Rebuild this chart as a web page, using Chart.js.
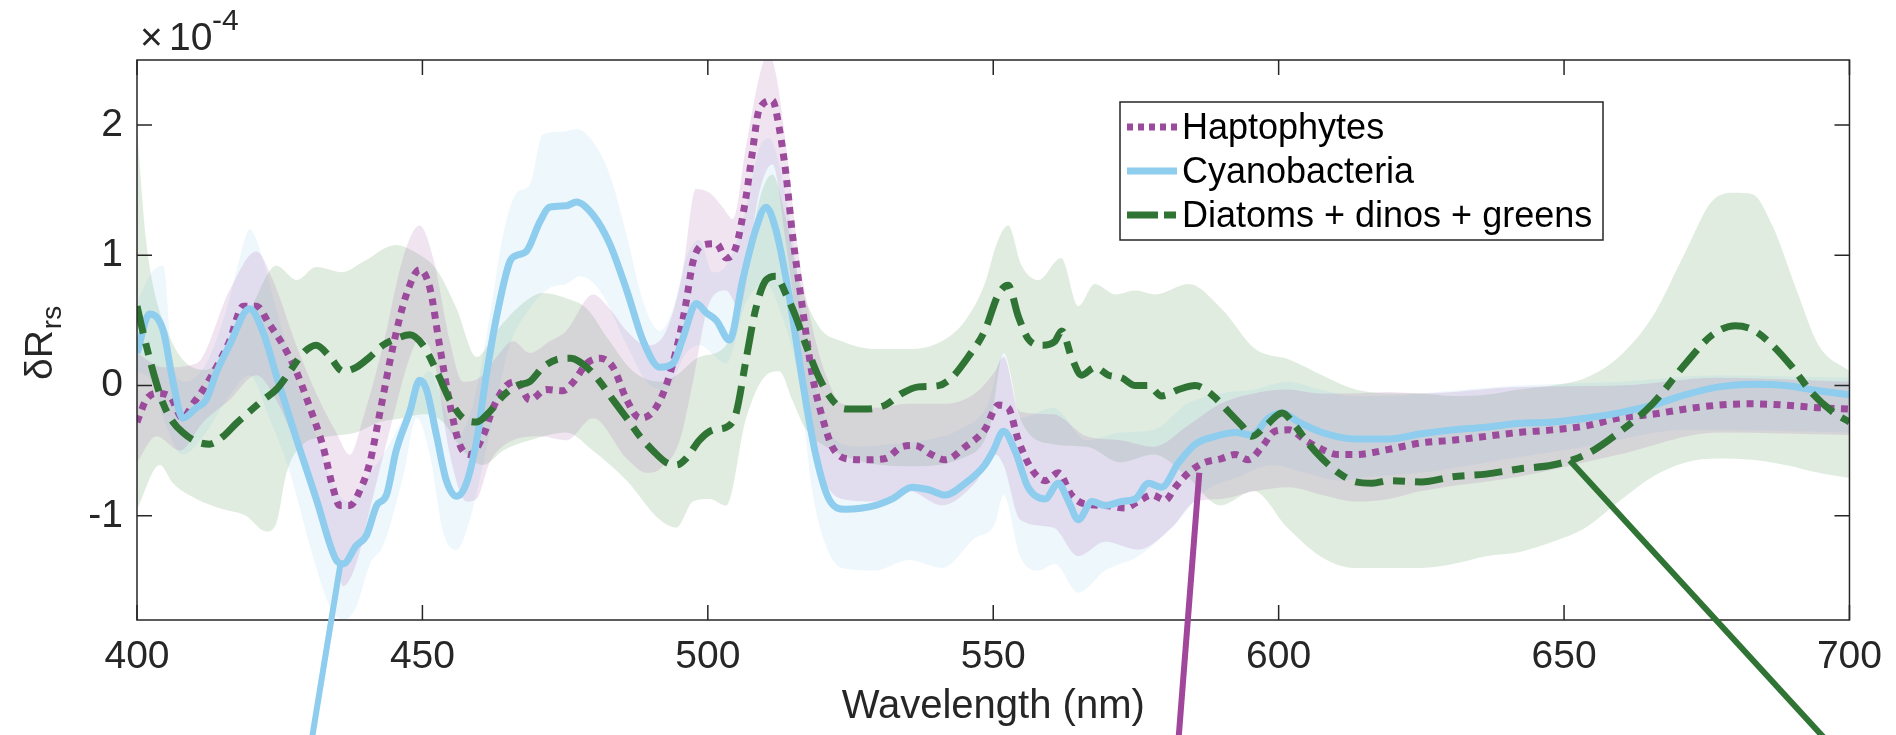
<!DOCTYPE html>
<html>
<head>
<meta charset="utf-8">
<title>δRrs spectra</title>
<script src="https://cdn.jsdelivr.net/npm/chart.js@4.4.1/dist/chart.umd.min.js"></script>
<style>
  html, body { margin: 0; padding: 0; background: #fff; }
  #wrap { width: 1896px; height: 735px; }
</style>
</head>
<body>
<div id="wrap"><canvas id="spectra" width="1896" height="735"></canvas></div>
<script>
// ---- data: [wavelength (nm), δRrs (×1e-4)] ----
const xTicks = [400, 450, 500, 550, 600, 650, 700];
const yTicks = [-1, 0, 1, 2];

const haptoMean = [
  [400,-0.28],[401.6,-0.11],[403.4,-0.06],[405.7,-0.08],[408,-0.25],[409.8,-0.14],[411.6,-0.03],
  [413.9,0.14],[416.2,0.34],[418.6,0.61],[420.9,0.61],[423.2,0.47],[425.6,0.31],[427.9,0.11],
  [430.3,-0.17],[432.6,-0.47],[434.3,-0.78],[435.5,-0.92],[437.3,-0.92],[439,-0.81],[440.8,-0.59],
  [442.5,-0.22],[444.9,0.31],[447.2,0.70],[449.5,0.89],[451.3,0.75],[453,0.31],[454.8,-0.14],
  [456.5,-0.45],[458.3,-0.53],[460.6,-0.39],[462.4,-0.17],[464.7,0],[466.5,0.03],[468.8,-0.11],
  [471.7,-0.03],[474.6,-0.04],[476.5,0.03],[478.8,0.17],[481.1,0.21],[483.4,0.14],[485.8,-0.11],
  [488.1,-0.25],[490.4,-0.20],[492.7,0],[495.1,0.39],[496.2,0.64],[497.4,0.95],[499.1,1.08],
  [501.5,1.09],[503.2,0.98],[504.9,1.06],[506.7,1.45],[507.8,1.79],[509,2.12],[511.3,2.19],
  [512.5,1.98],[513.7,1.62],[514.8,1.17],[516.6,0.59],[518.3,0.08],[520.1,-0.25],[521.8,-0.47],
  [524.1,-0.56],[527.6,-0.57],[531.1,-0.56],[534,-0.47],[536.3,-0.46],[539.2,-0.53],[541.6,-0.57],
  [545.1,-0.47],[548.5,-0.34],[550.9,-0.15],[552.6,-0.17],[554.4,-0.42],[556.7,-0.64],[559.1,-0.73],
  [561.4,-0.67],[563.7,-0.84],[566.1,-0.91],[569.6,-0.92],[573.1,-0.94],[575.4,-0.89],[577.8,-0.84],
  [580.1,-0.88],[581.9,-0.78],[584.2,-0.67],[586.5,-0.60],[590,-0.56],[592.4,-0.53],[594.7,-0.57],
  [597.1,-0.47],[599.4,-0.35],[601.8,-0.34],[604.7,-0.42],[607.6,-0.49],[610.5,-0.53],[613.5,-0.53],
  [619.3,-0.49],[625,-0.44],[630.5,-0.42],[636.3,-0.39],[642.1,-0.36],[648,-0.34],[653.8,-0.31],
  [659.6,-0.25],[665.5,-0.22],[671.3,-0.18],[677.1,-0.15],[683,-0.14],[688.8,-0.15],[694.6,-0.17],
  [700,-0.18]
];
const haptoHi = [
  [400,0.25],[404.6,0.14],[410.4,0.17],[416.2,0.73],[420.9,1.03],[423.8,0.81],[427.9,0.31],
  [431.4,-0.06],[434.9,-0.36],[437.3,-0.53],[439.6,-0.25],[443.1,0.31],[446.6,0.98],[449.5,1.23],
  [451.9,0.98],[454.8,0.34],[457.1,0.03],[460,0.06],[463,0.22],[465.9,0.34],[468.8,0.25],
  [472.3,0.34],[475.2,0.42],[479.9,0.70],[482.8,0.59],[485.8,0.42],[489.3,0.31],[492.7,0.42],
  [495.6,0.87],[497.9,1.51],[500.3,1.48],[502.6,1.37],[504.4,1.28],[506.7,1.84],[509,2.37],
  [510.5,2.55],[511.9,2.40],[513.7,1.84],[516,0.98],[518.3,0.45],[520.7,0.08],[523.5,-0.14],
  [529.4,-0.17],[535.2,-0.14],[541,-0.14],[546.8,-0.06],[550.3,0.11],[551.8,0.22],[554.7,-0.20],
  [560.5,-0.22],[566.4,-0.39],[572.3,-0.42],[578.1,-0.47],[584,-0.31],[589.8,-0.14],[595.6,-0.06],
  [601.5,-0.03],[607.3,-0.06],[613.2,-0.06],[619,-0.05],[625,-0.06],[642,-0.01],[659.6,0],
  [677,0.06],[700,0.03]
];
const haptoLo = [
  [400,-0.59],[403.4,-0.39],[407.5,-0.50],[411.6,-0.28],[416.2,-0.11],[420.9,0.08],[424.4,-0.11],
  [427.9,-0.47],[431.4,-0.95],[434.9,-1.31],[436.1,-1.54],[438.4,-1.37],[440.8,-0.95],[444.3,-0.34],
  [447.8,0.22],[449.5,0.36],[451.9,0.22],[454.8,-0.53],[457.7,-0.89],[459.5,-0.87],[461.8,-0.59],
  [465.9,-0.42],[470.6,-0.39],[475.2,-0.42],[479.9,-0.25],[485.8,-0.56],[489.3,-0.67],[491.6,-0.64],
  [495.1,-0.42],[497.4,0.03],[500.3,0.64],[503.2,0.73],[505.5,0.59],[509,1.48],[511.3,1.70],
  [513.7,1.09],[516,0.31],[518.3,-0.39],[520.7,-0.75],[523.5,-0.87],[529.4,-0.89],[535.2,-0.81],
  [541,-0.92],[546.8,-0.75],[550.3,-0.53],[551.8,-0.61],[554.7,-1.03],[560.5,-1.09],[564.9,-1.31],
  [569.6,-1.20],[575.4,-1.26],[581.3,-1.09],[585.4,-0.89],[590,-0.87],[595.9,-0.81],[601.8,-0.78],
  [607.6,-0.84],[613.5,-0.89],[619.3,-0.87],[625,-0.81],[642,-0.70],[659.6,-0.53],[677,-0.36],
  [700,-0.38]
];

const cyanoMean = [
  [400,0.25],[402.2,0.55],[404.6,0.42],[406.3,0.03],[408,-0.25],[410.4,-0.17],[412.1,-0.11],
  [414,0.11],[416.2,0.31],[419.7,0.59],[422,0.42],[424.4,0.08],[428,-0.42],[431.4,-0.87],
  [434.9,-1.34],[436.1,-1.37],[438.4,-1.23],[440.2,-1.15],[442,-0.92],[443.7,-0.84],[445.4,-0.50],
  [447.8,-0.20],[449.5,0.04],[450.7,-0.03],[452.5,-0.39],[454.2,-0.73],[456,-0.85],[457.7,-0.75],
  [459.5,-0.42],[461.2,0.08],[463,0.53],[465.3,0.95],[466.5,1.00],[468.2,1.03],[470.6,1.26],
  [472.3,1.37],[475.2,1.38],[477,1.41],[479.9,1.31],[482.8,1.09],[485.8,0.73],[488.7,0.34],
  [491.6,0.14],[493.9,0.17],[495.6,0.36],[498,0.63],[499.7,0.56],[501.5,0.50],[503.8,0.35],
  [506.1,0.81],[508.4,1.20],[510.2,1.37],[511.9,1.20],[514.2,0.70],[516.6,0.03],[518.9,-0.53],
  [521.2,-0.87],[524.1,-0.95],[529.4,-0.92],[532.3,-0.87],[535.8,-0.78],[538.7,-0.80],[541.6,-0.84],
  [545.1,-0.75],[548.5,-0.61],[550,-0.50],[551.8,-0.35],[553.8,-0.50],[556.1,-0.78],[559.1,-0.87],
  [561.4,-0.75],[563.2,-0.89],[564.9,-1.03],[567.3,-0.89],[569.6,-0.92],[572.5,-0.89],[574.9,-0.87],
  [577.2,-0.75],[579.5,-0.78],[582.5,-0.59],[585.4,-0.45],[588.9,-0.39],[592.4,-0.36],[595.3,-0.38],
  [598.2,-0.25],[600.6,-0.21],[603.5,-0.28],[607.6,-0.36],[613.5,-0.41],[619.3,-0.41],[625,-0.37],
  [630.5,-0.34],[636.3,-0.32],[642.1,-0.29],[648,-0.28],[653.8,-0.25],[659.6,-0.21],[665.5,-0.15],
  [671.3,-0.07],[677.1,-0.01],[683,0.01],[688.8,0],[694.6,-0.04],[700,-0.07]
];
const cyanoHi = [
  [400,0.64],[402.6,0.87],[404.6,0.92],[406.3,0.14],[408.6,0.03],[412.1,0.17],[415.7,0.59],
  [418,0.98],[419.7,1.20],[422,0.98],[424.4,0.59],[428,0.03],[431.4,-0.39],[434.9,-0.81],
  [437.3,-0.89],[439.6,-0.75],[443.1,-0.53],[446.6,-0.25],[449.5,0.03],[451.3,0.11],[453.6,-0.14],
  [456,-0.39],[458.9,-0.14],[461.8,0.53],[464.1,1.15],[466.5,1.48],[468.8,1.54],[471.1,1.93],
  [474.6,1.95],[477,1.97],[479.9,1.87],[482.8,1.62],[485.8,1.15],[488.7,0.64],[491.6,0.42],
  [493.9,0.59],[496.2,0.98],[498.5,1.12],[500.9,0.87],[503.2,0.92],[506.7,1.37],[509,1.82],
  [510.8,1.90],[512.5,1.70],[514.8,1.15],[517.2,0.36],[519.5,-0.11],[521.8,-0.39],[526.5,-0.47],
  [532.3,-0.45],[538.1,-0.42],[544,-0.34],[549.1,-0.14],[551.8,0.25],[554.7,-0.25],[560.5,-0.17],
  [566.4,-0.42],[572.3,-0.36],[578.1,-0.34],[584,-0.14],[589.8,-0.06],[595.6,-0.03],[601.5,0.03],
  [607.3,-0.03],[613.2,-0.08],[619,-0.08],[624.9,-0.06],[630.5,-0.04],[642,0],[659.6,0.03],
  [677,0.08],[700,0.06]
];
const cyanoLo = [
  [400,0.11],[402.6,0.03],[404.6,-0.25],[408,-0.53],[412.1,-0.36],[415.7,-0.11],[419.7,0.08],
  [423.2,-0.25],[426.8,-0.67],[430.3,-1.23],[433.8,-1.70],[436.1,-1.80],[438.4,-1.70],[440.8,-1.37],
  [443.1,-1.23],[446.6,-0.70],[449,-0.25],[451.3,-0.53],[453.6,-1.12],[456,-1.26],[458.3,-1.03],
  [460.6,-0.61],[463,-0.11],[465.3,0.31],[468.8,0.59],[472.3,0.75],[475.2,0.78],[477.6,0.84],
  [481.1,0.73],[485.8,0.31],[489.3,0.03],[492.7,-0.03],[496.2,0.25],[498.5,0.31],[503.2,0.17],
  [506.7,0.64],[510.2,0.78],[512.5,0.59],[516,0.03],[518.3,-0.81],[520.7,-1.23],[523.5,-1.40],
  [529.4,-1.42],[535.2,-1.34],[541,-1.40],[546.8,-1.17],[550.3,-1.06],[551.8,-0.84],[554.7,-1.31],
  [557.9,-1.42],[560.8,-1.37],[564.9,-1.59],[569.6,-1.42],[575.4,-1.31],[581.3,-1.09],[587.1,-0.81],
  [593,-0.70],[598.8,-0.61],[604.7,-0.67],[610.5,-0.73],[616.4,-0.70],[625,-0.67],[636.3,-0.59],
  [653.8,-0.47],[671.3,-0.34],[700,-0.36]
];

const diatomMean = [
  [400,0.61],[401,0.42],[402.8,0.11],[404.6,-0.14],[406.3,-0.28],[408,-0.36],[410.4,-0.43],
  [412.7,-0.45],[415.1,-0.39],[417.4,-0.29],[419.7,-0.20],[422.1,-0.11],[424.4,-0.03],[426.8,0.11],
  [429.1,0.25],[431.4,0.31],[433.8,0.22],[436.1,0.11],[438.4,0.14],[440.8,0.22],[443.1,0.31],
  [445.4,0.36],[447.8,0.39],[450.1,0.31],[452.5,0.11],[454.8,-0.11],[457.1,-0.25],[459.5,-0.28],
  [461.8,-0.20],[464.1,-0.08],[466.5,0],[468.8,0.03],[471.1,0.14],[473.5,0.20],[476,0.21],
  [478.8,0.14],[481.1,0.03],[483.4,-0.11],[485.8,-0.25],[488.1,-0.39],[490.4,-0.50],[492.7,-0.59],
  [494.5,-0.61],[496.2,-0.56],[498.5,-0.42],[500.9,-0.34],[503.2,-0.32],[504.9,-0.22],[506.7,0.20],
  [508.4,0.59],[510.2,0.81],[511.9,0.84],[513.7,0.70],[515.4,0.53],[517.2,0.31],[519.5,0.06],
  [521.8,-0.11],[524.1,-0.18],[527.6,-0.18],[531.1,-0.15],[534,-0.06],[536.9,-0.01],[540.4,0],
  [542.7,0.06],[545.6,0.22],[548.5,0.42],[550.9,0.70],[552.6,0.77],[554.4,0.53],[556.1,0.36],
  [558.5,0.31],[560.8,0.34],[562,0.42],[563.7,0.22],[565.5,0.08],[567.8,0.14],[570.2,0.08],
  [572.5,0.06],[574.9,0],[577.2,0],[579.5,-0.08],[582.5,-0.03],[585.4,0],[588.3,-0.07],
  [591.2,-0.20],[593.6,-0.31],[595.3,-0.39],[597.7,-0.31],[600.6,-0.21],[602.9,-0.31],[605.3,-0.45],
  [607.6,-0.56],[610.5,-0.67],[613.5,-0.74],[616.4,-0.75],[619.3,-0.73],[625,-0.74],[630.5,-0.70],
  [636.3,-0.68],[642.1,-0.64],[648,-0.61],[653.8,-0.53],[659.6,-0.36],[665.5,-0.14],[671.3,0.17],
  [676,0.39],[680,0.46],[683,0.43],[686.5,0.31],[690,0.14],[693.5,-0.06],[697,-0.20],[700,-0.28]
];
const diatomHi = [
  [400,1.96],[401.5,1.15],[403,0.73],[405,0.45],[408,0.20],[412,0.12],[416,0.30],[420,0.60],
  [424.4,0.92],[428,0.81],[431.4,0.91],[436,0.87],[439.6,0.95],[445.4,1.08],[448.9,1.02],
  [452.5,0.89],[456,0.59],[459.5,0.22],[463,0.42],[466.5,0.59],[471.1,0.71],[475.2,0.67],
  [478.8,0.59],[482.8,0.34],[486.9,0.11],[491.6,0.03],[494.5,0.08],[498.5,0.22],[503.2,0.31],
  [506.7,0.87],[509,1.42],[511.3,1.62],[513.7,1.28],[516,0.81],[519.5,0.45],[523.5,0.34],
  [529.4,0.28],[535.2,0.28],[541,0.34],[545.1,0.50],[548.5,0.78],[550.6,1.09],[552.6,1.23],
  [555,0.92],[557.9,0.81],[561.9,0.98],[564.9,0.61],[567.8,0.78],[571.4,0.70],[574.9,0.73],
  [578.4,0.70],[584.2,0.78],[590,0.59],[595.9,0.28],[601.8,0.20],[607.6,0.08],[613.5,-0.03],
  [619.3,-0.06],[625,-0.06],[630.5,-0.08],[636.3,-0.07],[642.1,-0.03],[648,0],[653.8,0.06],
  [659.6,0.22],[665.5,0.53],[671.3,1.03],[676,1.42],[680,1.48],[683,1.47],[686.5,1.23],
  [690.6,0.75],[694.6,0.31],[700,0.11]
];
const diatomLo = [
  [400,-0.95],[404,-0.61],[406.3,-0.75],[410.4,-0.87],[415.1,-0.95],[419.1,-1.00],[422.6,-1.12],
  [424.4,-1.06],[426.2,-0.67],[429.1,-0.45],[433.8,-0.39],[438.4,-0.36],[442.5,-0.28],[446.6,-0.25],
  [450.1,-0.22],[453.6,-0.28],[457.1,-0.50],[460.6,-0.61],[464.1,-0.50],[468.8,-0.42],[475.2,-0.36],
  [479.9,-0.50],[485.8,-0.73],[491.6,-1.03],[494.5,-1.09],[497.4,-0.89],[500.3,-0.87],[503.2,-0.92],
  [506.7,-0.25],[510.2,0.08],[512.5,0.11],[514.8,-0.11],[517.2,-0.34],[520.7,-0.47],[526.5,-0.58],
  [535,-0.62],[545,-0.55],[549.5,-0.30],[551.8,0.25],[554.7,-0.25],[560.5,-0.45],[566.4,-0.47],
  [572.3,-0.59],[578.1,-0.53],[584,-0.70],[589.8,-0.92],[595.6,-0.81],[601.5,-1.09],[607.3,-1.31],
  [613.2,-1.40],[625,-1.40],[630.5,-1.37],[636.3,-1.31],[642.1,-1.28],[648,-1.20],[653.8,-1.09],
  [659.6,-0.89],[665.5,-0.70],[671.3,-0.59],[677.1,-0.56],[683,-0.57],[688.8,-0.61],[694.6,-0.67],
  [700,-0.71]
];

// leader lines running off the bottom of the figure: [start, end] in data units
const leaders = [
  { group: 'cyano', from: [435.6, -1.38], to: [430.5, -2.75] },
  { group: 'hapto', from: [586.1, -0.67], to: [582.4, -2.75] },
  { group: 'diatom', from: [651.0, -0.575], to: [696.5, -2.75] }
];

// ---- styling ----
const FONT = '"Liberation Sans", Arial, Helvetica, sans-serif';
const AXIS = '#262626';
const TICK = 15;
const C = {
  hapto: { line: '#9b4a9c', rgb: '155,74,158', leader: '#a0469b', dash: [7, 6.5], keyDash: [6, 5] },
  cyano: { line: '#8ecded', rgb: '141,203,235', leader: '#8ecded', dash: [], keyDash: [] },
  diatom: { line: '#2f7434', rgb: '46,125,50', leader: '#2f7434', dash: [28, 10, 12, 10], keyDash: [31, 6, 12, 40] }
};
const legendItems = [
  { label: 'Haptophytes', group: 'hapto' },
  { label: 'Cyanobacteria', group: 'cyano' },
  { label: 'Diatoms + dinos + greens', group: 'diatom' }
];

const toXY = pairs => pairs.map(([x, y]) => ({ x, y }));

function bandSets(hi, lo, group) {
  const base = {
    borderColor: 'rgba(0,0,0,0)', borderWidth: 0, pointRadius: 0,
    cubicInterpolationMode: 'monotone', order: 10
  };
  return [
    { ...base, data: toXY(hi), fill: '+1', backgroundColor: `rgba(${C[group].rgb},0.15)` },
    { ...base, data: toXY(lo), fill: false }
  ];
}

function meanSet(pairs, group, order) {
  return {
    data: toXY(pairs), borderColor: C[group].line, borderWidth: 7, borderDash: C[group].dash,
    borderCapStyle: 'butt', borderJoinStyle: 'round', pointRadius: 0, fill: false,
    cubicInterpolationMode: 'monotone', order
  };
}

// box, inward ticks, exponent, y label, legend, leader lines
const decorations = {
  id: 'decorations',
  afterDraw(chart) {
    const { ctx, chartArea: a, scales: { x, y } } = chart;
    ctx.save();

    ctx.strokeStyle = AXIS;
    ctx.lineWidth = 1.5;
    ctx.strokeRect(a.left, a.top, a.right - a.left, a.bottom - a.top);
    ctx.beginPath();
    xTicks.forEach(v => {
      const px = x.getPixelForValue(v);
      ctx.moveTo(px, a.bottom); ctx.lineTo(px, a.bottom - TICK);
      ctx.moveTo(px, a.top); ctx.lineTo(px, a.top + TICK);
    });
    yTicks.forEach(v => {
      const py = y.getPixelForValue(v);
      ctx.moveTo(a.left, py); ctx.lineTo(a.left + TICK, py);
      ctx.moveTo(a.right, py); ctx.lineTo(a.right - TICK, py);
    });
    ctx.stroke();

    // ×10^-4 above the y axis
    ctx.fillStyle = AXIS;
    ctx.textAlign = 'left';
    ctx.textBaseline = 'alphabetic';
    ctx.font = `39px ${FONT}`;
    ctx.fillText('\u00d7', a.left + 3, a.top - 10);
    ctx.fillText('10', a.left + 32, a.top - 10);
    ctx.font = `30px ${FONT}`;
    ctx.fillText('-4', a.left + 75, a.top - 30);

    // δR_rs
    ctx.save();
    ctx.translate(52, 380);
    ctx.rotate(-Math.PI / 2);
    ctx.font = `39px ${FONT}`;
    ctx.fillText('\u03b4R', 0, 0);
    const w = ctx.measureText('\u03b4R').width;
    ctx.font = `28px ${FONT}`;
    ctx.fillText('rs', w + 1, 9);
    ctx.restore();

    // legend
    const lx = a.left + 983, ly = a.top + 42, lw = 483, lh = 138;
    ctx.fillStyle = '#fff';
    ctx.fillRect(lx, ly, lw, lh);
    ctx.strokeStyle = AXIS;
    ctx.lineWidth = 1.5;
    ctx.strokeRect(lx, ly, lw, lh);
    legendItems.forEach((it, i) => {
      const cy = ly + 25 + i * 44;
      const st = C[it.group];
      ctx.strokeStyle = st.line;
      ctx.lineWidth = 7;
      ctx.lineCap = 'butt';
      ctx.setLineDash(st.keyDash);
      ctx.beginPath();
      ctx.moveTo(lx + 7, cy); ctx.lineTo(lx + 57, cy);
      ctx.stroke();
      ctx.setLineDash([]);
      ctx.fillStyle = '#000';
      ctx.font = `36px ${FONT}`;
      ctx.textBaseline = 'middle';
      ctx.fillText(it.label, lx + 62, cy + 2);
    });

    // leader lines
    ctx.lineWidth = 6;
    ctx.lineCap = 'butt';
    leaders.forEach(l => {
      ctx.strokeStyle = C[l.group].leader;
      ctx.beginPath();
      ctx.moveTo(x.getPixelForValue(l.from[0]), y.getPixelForValue(l.from[1]));
      ctx.lineTo(x.getPixelForValue(l.to[0]), y.getPixelForValue(l.to[1]));
      ctx.stroke();
    });

    ctx.restore();
  }
};

new Chart(document.getElementById('spectra'), {
  type: 'line',
  data: {
    datasets: [
      meanSet(diatomMean, 'diatom', 1),
      meanSet(cyanoMean, 'cyano', 2),
      meanSet(haptoMean, 'hapto', 3),
      ...bandSets(haptoHi, haptoLo, 'hapto'),
      ...bandSets(cyanoHi, cyanoLo, 'cyano'),
      ...bandSets(diatomHi, diatomLo, 'diatom')
    ]
  },
  options: {
    responsive: false,
    animation: false,
    devicePixelRatio: 1,
    layout: { padding: { top: 60, right: 46, bottom: 0, left: 0 } },
    plugins: { legend: { display: false }, tooltip: { enabled: false } },
    scales: {
      x: {
        type: 'linear', min: 400, max: 700,
        afterBuildTicks: s => { s.ticks = xTicks.map(v => ({ value: v })); },
        afterFit: s => { s.height = 115; },
        grid: { display: false, drawTicks: false },
        border: { display: false },
        ticks: { font: { family: FONT, size: 39 }, color: AXIS, padding: 14, maxRotation: 0, autoSkip: false },
        title: {
          display: true, text: 'Wavelength (nm)', color: AXIS,
          font: { family: FONT, size: 40 }, padding: { top: 0, bottom: 4 }
        }
      },
      y: {
        type: 'linear', min: -1.8, max: 2.5,
        afterBuildTicks: s => { s.ticks = yTicks.map(v => ({ value: v })); },
        afterFit: s => { s.width = 137; },
        grid: { display: false, drawTicks: false },
        border: { display: false },
        ticks: { font: { family: FONT, size: 39 }, color: AXIS, padding: 14, callback: v => String(v) }
      }
    }
  },
  plugins: [decorations]
});
</script>
</body>
</html>
